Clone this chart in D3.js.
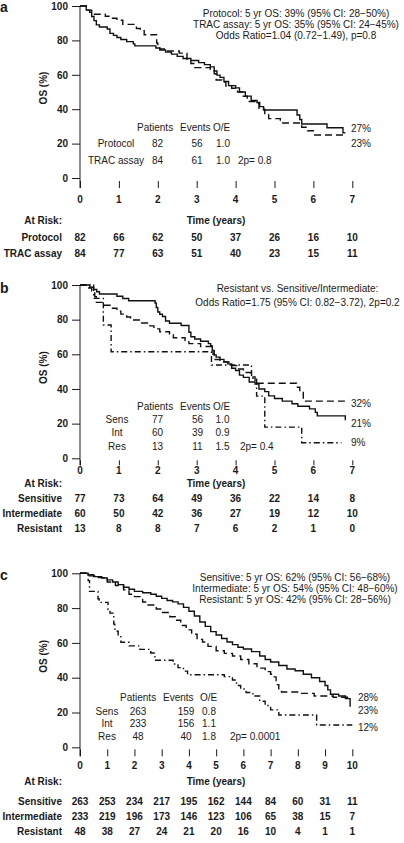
<!DOCTYPE html>
<html><head><meta charset="utf-8">
<script src="https://cdn.jsdelivr.net/npm/d3@7"></script>
<style>
body{margin:0;background:#fff}
svg{display:block}
text{font-family:"Liberation Sans",Arial,Helvetica,sans-serif;fill:#1a1a1a}
</style>
</head><body>
<svg id="chart" width="404" height="843"></svg>
<script>
// ---------------- DATA ----------------
// Panel a
const aTicks = [0,1,2,3,4,5,6,7];
const aProtocol = [[0,100],[0.16,97.6],[0.25,96.3],[0.3,93.9],[0.36,91.5],[0.42,89.0],[0.5,87.8],[0.7,86.6],[0.77,84.1],[0.86,82.9],[0.95,81.7],[1.05,80.5],[1.2,79.3],[1.37,78.0],[1.41,76.8],[1.95,75.6],[2.05,74.4],[2.2,73.2],[2.35,72.0],[2.5,70.7],[2.65,69.5],[2.85,68.3],[3.05,67.1],[3.2,65.9],[3.35,64.6],[3.45,62.2],[3.52,59.8],[3.6,58.5],[3.7,56.1],[3.82,53.7],[4.0,52.4],[4.1,50.0],[4.25,47.6],[4.4,45.1],[4.55,43.9],[4.62,41.5],[4.72,39.5],[5.58,36.6],[5.65,34.0],[5.7,31.4],[6.35,29.2],[6.76,26.3],[6.82,26.3]];
const aTrac = [[0,100],[0.2,97.6],[0.3,95.2],[0.65,94.0],[0.8,92.9],[0.95,91.7],[1.1,89.3],[1.45,86.9],[1.55,85.7],[1.65,83.3],[1.97,78.5],[2.0,76.1],[2.05,75.0],[2.2,73.8],[2.55,72.6],[2.75,69.0],[2.85,66.6],[2.95,64.2],[3.35,63.0],[3.45,60.6],[3.5,57.0],[3.65,55.8],[3.75,53.4],[3.9,52.2],[4.05,50.0],[4.2,47.5],[4.3,44.5],[4.5,43.5],[4.6,40.0],[4.75,37.0],[4.85,34.5],[5.15,32.0],[5.7,29.5],[5.85,27.5],[6.0,25.0],[6.8,24.0],[6.82,24.0]];
const aHeader = ["Protocol: 5 yr OS: 39% (95% CI: 28\u221250%)","TRAC assay: 5 yr OS: 35% (95% CI: 24\u221245%)","Odds Ratio=1.04 (0.72\u22121.49), p=0.8"];
const aTableNames = ["Protocol","TRAC assay"];
const aPatients = [82,84];
const aEvents = [56,61];
const aOE = ["1.0","1.0"];
const aP = "2p= 0.8";
const aEndLabels = ["27%","23%"];
const aRiskNames = ["Protocol","TRAC assay"];
const aRiskProtocol = [82,66,62,50,37,26,16,10];
const aRiskTrac = [84,77,63,51,40,23,15,11];

// Panel b
const bTicks = [0,1,2,3,4,5,6,7];
const bSensitive = [[0,100],[0.25,98.7],[0.35,97.4],[0.43,96.1],[0.5,94.8],[0.95,93.5],[1.1,92.2],[1.25,90.9],[1.93,89.6],[1.96,87.0],[2.0,84.4],[2.05,83.1],[2.12,81.8],[2.2,79.2],[2.3,77.9],[2.6,76.6],[2.8,72.7],[2.85,70.1],[2.95,68.8],[3.1,67.5],[3.3,66.2],[3.36,64.9],[3.4,62.3],[3.45,59.7],[3.5,58.4],[3.6,57.1],[3.7,55.8],[3.8,54.5],[3.9,52.0],[4.0,50.7],[4.1,48.0],[4.2,46.7],[4.35,44.0],[4.5,42.8],[4.6,40.0],[4.75,38.5],[4.85,36.0],[5.0,34.5],[5.2,33.0],[5.45,31.5],[5.6,30.0],[5.9,28.5],[6.05,26.5],[6.1,24.5],[6.82,22.0]];
const bIntermediate = [[0,100],[0.2,98.3],[0.3,96.6],[0.38,93.2],[0.42,90.0],[0.6,88.3],[0.8,86.6],[0.95,84.9],[1.05,83.2],[1.2,81.5],[1.3,79.8],[1.55,78.1],[1.8,76.4],[1.9,74.7],[2.05,73.0],[2.3,71.3],[2.4,69.6],[2.7,67.9],[2.8,66.2],[3.1,64.5],[3.4,62.8],[3.42,60.0],[3.45,57.0],[3.6,55.5],[3.9,53.5],[4.05,51.5],[4.2,49.5],[4.4,47.0],[4.5,43.3],[5.57,41.0],[5.65,38.5],[5.74,33.0],[6.82,33.0]];
const bResistant = [[0,100],[0.35,92.3],[0.6,76.9],[0.8,61.5],[3.38,53.8],[4.41,46.2],[4.54,35.9],[4.75,18.0],[5.7,9.0],[6.72,9.0]];
const bHeader = ["Resistant vs. Sensitive/Intermediate:","Odds Ratio=1.75 (95% CI: 0.82\u22123.72), 2p=0.2"];
const bTableNames = ["Sens","Int","Res"];
const bPatients = [77,60,13];
const bEvents = [56,39,11];
const bOE = ["1.0","0.9","1.5"];
const bP = "2p= 0.4";
const bEndLabels = ["32%","21%","9%"];
const bRiskNames = ["Sensitive","Intermediate","Resistant"];
const bRiskSensitive = [77,73,64,49,36,22,14,8];
const bRiskIntermediate = [60,50,42,36,27,19,12,10];
const bRiskResistant = [13,8,8,7,6,2,1,0];

// Panel c
const cTicks = [0,1,2,3,4,5,6,7,8,9,10];
const cSensitive = [[0,100],[0.3,99.2],[0.5,98.1],[0.8,97.3],[1.0,96.2],[1.2,95.0],[1.4,93.5],[1.6,92.0],[1.8,90.8],[2.0,89.6],[2.3,88.8],[2.6,88.0],[2.8,86.8],[3.0,85.6],[3.2,84.4],[3.4,83.6],[3.6,82.4],[3.8,80.4],[4.0,78.2],[4.2,75.5],[4.4,72.0],[4.6,69.5],[4.8,66.5],[5.0,64.5],[5.2,62.5],[5.4,60.5],[5.6,59.0],[5.8,57.5],[6.0,56.5],[6.3,55.0],[6.6,52.5],[6.8,50.5],[7.0,49.0],[7.3,47.0],[7.6,45.0],[7.9,44.0],[8.2,42.0],[8.5,40.0],[8.8,37.8],[9.0,35.5],[9.1,33.0],[9.2,30.5],[9.5,29.5],[9.75,28.0],[9.92,23.3]];
const cIntermediate = [[0,100],[0.3,98.5],[0.6,97.5],[1.0,95.0],[1.3,93.0],[1.6,90.5],[1.8,88.0],[2.0,86.6],[2.3,83.5],[2.5,81.8],[2.8,79.5],[3.0,77.5],[3.3,75.0],[3.5,73.0],[3.7,70.0],[3.9,67.5],[4.1,65.0],[4.3,62.0],[4.5,60.5],[4.7,58.0],[5.0,55.5],[5.3,54.0],[5.6,52.5],[5.9,50.5],[6.2,48.0],[6.5,45.5],[6.8,43.5],[7.0,42.0],[7.1,40.5],[7.2,36.0],[7.3,33.0],[7.4,31.8],[8.1,31.0],[8.6,29.5],[9.3,28.8],[9.92,28.8]];
const cResistant = [[0,100],[0.3,95.8],[0.35,89.6],[0.66,85.4],[0.7,83.3],[1.03,79.2],[1.1,77.1],[1.24,70.8],[1.28,66.7],[1.4,64.6],[1.5,60.4],[1.8,58.3],[2.2,56.3],[2.6,54.2],[2.75,50.0],[3.42,47.9],[3.6,45.8],[3.8,43.8],[3.95,41.7],[5.3,40.6],[5.6,38.7],[5.75,35.5],[5.9,33.5],[6.1,31.5],[6.35,29.5],[6.6,26.5],[6.8,24.0],[7.0,21.5],[7.3,18.6],[8.69,12.8],[10.0,12.8]];
const cHeader = ["Sensitive: 5 yr OS: 62% (95% CI: 56\u221268%)","Intermediate: 5 yr OS: 54% (95% CI: 48\u221260%)","Resistant: 5 yr OS: 42% (95% CI: 28\u221256%)"];
const cTableNames = ["Sens","Int","Res"];
const cPatients = [263,233,48];
const cEvents = [159,156,40];
const cOE = ["0.8","1.1","1.8"];
const cP = "2p= 0.0001";
const cEndLabels = ["28%","23%","12%"];
const cRiskNames = ["Sensitive","Intermediate","Resistant"];
const cRiskSensitive = [263,253,234,217,195,162,144,84,60,31,11];
const cRiskIntermediate = [233,219,196,173,146,123,106,65,38,15,7];
const cRiskResistant = [48,38,27,24,21,20,16,10,4,1,1];

const yTicks = [0,20,40,60,80,100];

// ---------------- DRAWING ----------------
const svg = d3.select("#chart");
const STYLES = {
  solid: null,
  dashed: "7,4",
  dashdot: "6,3,1.5,3"
};

function drawPanel(p) {
  const g = svg.append("g");
  const x = d3.scaleLinear().domain([0, d3.max(p.ticks)]).range([80, 352.3]);
  const y = d3.scaleLinear().domain([0, 100]).range([p.y0, p.y100]);

  g.append("text").attr("x", 0).attr("y", p.letterY).attr("dy", "0.35em")
    .attr("font-size", 14).attr("font-weight", "bold").text(p.letter);

  const ya = d3.axisLeft(y).tickValues(yTicks).tickSize(8).tickPadding(4).tickFormat(d3.format("d"));
  const yg = g.append("g").attr("transform", "translate(80,0)").call(ya);
  yg.select(".domain").remove();
  yg.selectAll("line").attr("stroke", "#1a1a1a").attr("stroke-width", 1);
  yg.selectAll("text").attr("font-size", 10).attr("font-weight", "bold")
    .attr("font-family", "Liberation Sans, Arial, sans-serif").attr("fill", "#1a1a1a");
  g.append("line").attr("x1", 80).attr("x2", 80).attr("y1", y(100)).attr("y2", p.y0 + p.tickOff + p.tickLen)
    .attr("stroke", "#1a1a1a").attr("stroke-width", 1);

  g.append("text").attr("transform", `translate(43,${(p.y0 + p.y100) / 2 - 4}) rotate(-90)`)
    .attr("text-anchor", "middle").attr("dy", "0.35em")
    .attr("font-size", 10).attr("font-weight", "bold").text("OS (%)");

  const xa = d3.axisBottom(x).tickValues(p.ticks).tickSize(p.tickLen).tickFormat("");
  const xg = g.append("g").attr("transform", `translate(0,${p.y0 + p.tickOff})`).call(xa);
  xg.select(".domain").remove();
  xg.selectAll("line").attr("stroke", "#1a1a1a").attr("stroke-width", 1);
  g.selectAll(null).data(p.ticks).enter().append("text")
    .attr("x", d => x(d)).attr("y", p.tickLabelY).attr("dy", "0.35em")
    .attr("text-anchor", "middle").attr("font-size", 10).attr("font-weight", "bold")
    .text(d => d);

  const line = d3.line().x(d => x(d[0])).y(d => y(d[1])).curve(d3.curveStepAfter);
  p.series.forEach(s => {
    g.append("path").datum(s.data).attr("d", line).attr("fill", "none")
      .attr("stroke", "#111").attr("stroke-width", 1.4)
      .attr("stroke-dasharray", STYLES[s.style]);
  });

  p.endLabels.forEach((t, i) => {
    g.append("text").attr("x", p.endX).attr("y", p.endY[i]).attr("dy", "0.35em")
      .attr("font-size", 10).text(t);
  });

  p.header.forEach((t, i) => {
    g.append("text").attr("x", p.headerX).attr("y", p.headerY[i]).attr("dy", "0.35em")
      .attr("text-anchor", "middle").attr("font-size", 10).text(t);
  });

  const T = p.table;
  g.append("text").attr("x", T.hx[0]).attr("y", T.hy).attr("dy", "0.35em").attr("font-size", 10).text("Patients");
  g.append("text").attr("x", T.hx[1]).attr("y", T.hy).attr("dy", "0.35em").attr("font-size", 10).text("Events");
  g.append("text").attr("x", T.hx[2]).attr("y", T.hy).attr("dy", "0.35em").attr("font-size", 10).text("O/E");
  T.names.forEach((n, i) => {
    const yy = T.rows[i];
    g.append("text").attr("x", T.cx[0]).attr("y", yy).attr("dy", "0.35em").attr("text-anchor", "middle").attr("font-size", 10).text(n);
    g.append("text").attr("x", T.cx[1]).attr("y", yy).attr("dy", "0.35em").attr("text-anchor", "middle").attr("font-size", 10).text(T.patients[i]);
    g.append("text").attr("x", T.cx[2]).attr("y", yy).attr("dy", "0.35em").attr("text-anchor", "middle").attr("font-size", 10).text(T.events[i]);
    g.append("text").attr("x", T.cx[3]).attr("y", yy).attr("dy", "0.35em").attr("text-anchor", "middle").attr("font-size", 10).text(T.oe[i]);
  });
  g.append("text").attr("x", T.px).attr("y", T.rows[T.rows.length - 1]).attr("dy", "0.35em").attr("font-size", 10).text(T.p);

  g.append("text").attr("x", 62).attr("y", p.atRiskY).attr("dy", "0.35em").attr("text-anchor", "end")
    .attr("font-size", 10).attr("font-weight", "bold").text("At Risk:");
  g.append("text").attr("x", 216).attr("y", p.atRiskY).attr("dy", "0.35em").attr("text-anchor", "middle")
    .attr("font-size", 10).attr("font-weight", "bold").text("Time (years)");
  p.risk.forEach((r, i) => {
    const yy = p.riskY[i];
    g.append("text").attr("x", 62).attr("y", yy).attr("dy", "0.35em").attr("text-anchor", "end")
      .attr("font-size", 10).attr("font-weight", "bold").text(r.name);
    g.selectAll(null).data(r.values).enter().append("text")
      .attr("x", (d, j) => x(p.ticks[j])).attr("y", yy).attr("dy", "0.35em")
      .attr("text-anchor", "middle").attr("font-size", 10).attr("font-weight", "bold").text(d => d);
  });
}

drawPanel({
  letter: "a", letterY: 7, ticks: aTicks, y100: 6, y0: 178, tickOff: 3, tickLen: 7,
  tickLabelY: 199.5, atRiskY: 220, riskY: [237, 253.5],
  series: [{data: aProtocol, style: "solid"}, {data: aTrac, style: "dashed"}],
  endLabels: aEndLabels, endX: 351, endY: [128, 143.5],
  header: aHeader, headerX: 296, headerY: [13, 24, 35],
  table: {hx: [137, 180, 213], hy: 127, names: aTableNames, cx: [116, 157.5, 197, 223],
          rows: [143.3, 160], patients: aPatients, events: aEvents, oe: aOE, p: aP, px: 238},
  risk: [{name: aRiskNames[0], values: aRiskProtocol}, {name: aRiskNames[1], values: aRiskTrac}]
});

drawPanel({
  letter: "b", letterY: 288, ticks: bTicks, y100: 285, y0: 458.3, tickOff: 2, tickLen: 5,
  tickLabelY: 470, atRiskY: 483, riskY: [498.5, 513.5, 528.5],
  series: [{data: bSensitive, style: "solid"}, {data: bIntermediate, style: "dashed"}, {data: bResistant, style: "dashdot"}],
  endLabels: bEndLabels, endX: 351, endY: [403.3, 423.3, 442.7],
  header: bHeader, headerX: 297.5, headerY: [288, 302.7],
  table: {hx: [137, 180, 213], hy: 406, names: bTableNames, cx: [117, 157.5, 197.5, 222.5],
          rows: [419.3, 432.7, 446], patients: bPatients, events: bEvents, oe: bOE, p: bP, px: 240},
  risk: [{name: bRiskNames[0], values: bRiskSensitive}, {name: bRiskNames[1], values: bRiskIntermediate}, {name: bRiskNames[2], values: bRiskResistant}]
});

drawPanel({
  letter: "c", letterY: 575, ticks: cTicks, y100: 573.3, y0: 747.3, tickOff: 2, tickLen: 7,
  tickLabelY: 765, atRiskY: 781.7, riskY: [801.7, 816.7, 831.7],
  series: [{data: cSensitive, style: "solid"}, {data: cIntermediate, style: "dashed"}, {data: cResistant, style: "dashdot"}],
  endLabels: cEndLabels, endX: 358, endY: [697, 710, 727],
  header: cHeader, headerX: 295, headerY: [577, 588.3, 599.3],
  table: {hx: [120, 163, 200], hy: 697.3, names: cTableNames, cx: [107, 138, 186, 209],
          rows: [711, 723.6, 736], patients: cPatients, events: cEvents, oe: cOE, p: cP, px: 230},
  risk: [{name: cRiskNames[0], values: cRiskSensitive}, {name: cRiskNames[1], values: cRiskIntermediate}, {name: cRiskNames[2], values: cRiskResistant}]
});
</script>
</body></html>
